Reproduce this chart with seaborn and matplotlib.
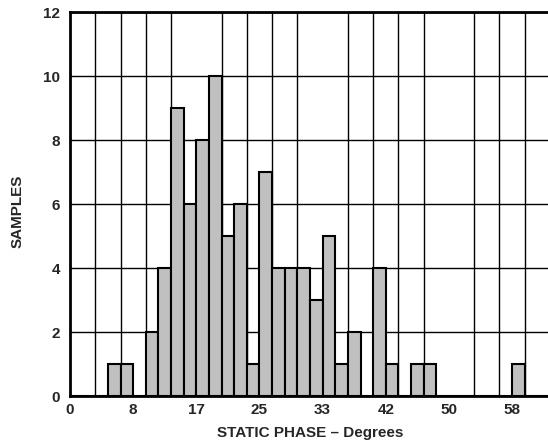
import numpy as np
import matplotlib
matplotlib.use("Agg")
import matplotlib.pyplot as plt
import seaborn as sns

# Histogram of static phase, bins of 5/3 degree
bin_width = 5 / 3
bin_index = [3, 4, 6, 7, 8, 9, 10, 11, 12, 13, 14, 15, 16, 17, 18,
             19, 20, 21, 22, 24, 25, 27, 28, 35]
samples = [1, 1, 2, 4, 9, 6, 8, 10, 5, 6, 1, 7, 4, 4, 4,
           3, 5, 1, 2, 4, 1, 1, 1, 1]

x_labels = ['0', '8', '17', '25', '33', '42', '50', '58']
y_ticks = [0, 2, 4, 6, 8, 10, 12]

sns.set_style('white')
plt.rcParams['font.family'] = ['Liberation Sans', 'DejaVu Sans']
plt.rcParams['font.weight'] = 'bold'

fig = plt.figure(figsize=(5.48, 4.43), dpi=100)
ax = fig.add_axes([70 / 548, 1 - 396 / 443, 480 / 548, 384 / 443])

centers = [(i + 0.5) * bin_width for i in bin_index]
x_max = 19 * 2 * bin_width
sns.histplot(x=centers, weights=samples, binwidth=bin_width,
             binrange=(0, x_max), color='#c0c0c0', edgecolor='black',
             linewidth=1.5, alpha=1, ax=ax, zorder=3)

ax.set_xlim(0, x_max)
ax.set_ylim(0, 12)

# label ticks every 25/3 deg, grid every 10/3 deg
fs = 11
ax.set_xticks([k * 25 / 3 for k in range(len(x_labels))])
ax.set_xticklabels(x_labels, fontsize=fs, fontweight='bold')
ax.set_xticks(np.arange(0, x_max + 0.01, 2 * bin_width), minor=True)
ax.set_yticks(y_ticks)
ax.set_yticklabels([str(v) for v in y_ticks], fontsize=fs, fontweight='bold')
ax.tick_params(axis='both', which='both', length=0)
ax.tick_params(axis='x', pad=5)
ax.tick_params(axis='y', pad=7)

ax.grid(False)
ax.grid(True, which='minor', axis='x', color='black', linewidth=1, zorder=1)
ax.grid(True, which='major', axis='y', color='black', linewidth=1, zorder=1)
ax.set_axisbelow(True)

for s in ax.spines.values():
    s.set_visible(True)
    s.set_color('black')
    s.set_linewidth(2)

ax.set_xlabel('STATIC PHASE \u2013 Degrees', fontsize=fs, fontweight='bold')
ax.set_ylabel('SAMPLES', fontsize=fs, fontweight='bold')
ax.xaxis.set_label_coords(0.5, -0.078)
ax.yaxis.set_label_coords(-0.094, 0.482)

fig.savefig('out.png', dpi=100)
